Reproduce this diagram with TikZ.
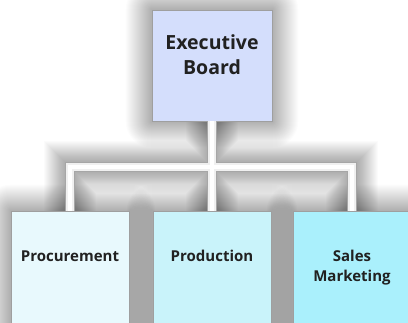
\documentclass[tikz,border=0pt]{standalone}
\usepackage{fontspec}
\setmainfont{Open Sans}
\usetikzlibrary{calc,backgrounds}

\definecolor{boardfill}{HTML}{D4DEFC}
\definecolor{procfill}{HTML}{E8F9FD}
\definecolor{prodfill}{HTML}{C9F3FA}
\definecolor{salesfill}{HTML}{AAF0FC}

\tikzset{
  unit/.style={draw=gray!75, line width=0.6pt, inner sep=0pt, align=center,
    text=black!87, font=\bfseries\fontsize{15}{20}\selectfont,
    text width=118pt, text height=51pt, text depth=90pt},
}

\begin{document}
\begin{tikzpicture}[x=1pt, y=-1pt]
  \useasboundingbox (0,0) rectangle (408,323);
  \clip (0,0) rectangle (408,323);

  % boxes
  \node[unit, fill=boardfill, text width=120pt, text height=40pt, text depth=71pt,
    font=\bfseries\fontsize{19.5}{25}\selectfont] (board) at (212,65.5) {Executive\\Board};
  \node[unit, fill=procfill] (box1) at (70,281.5) {Procurement};
  \node[unit, fill=prodfill] (box2) at (212,281.5) {Production};
  \node[unit, fill=salesfill] (box3) at (352,281.5) {Sales\\Marketing};

  \coordinate (bar) at (212,167);

  % white sheet, then soft shadows behind boxes and pipes
  \begin{pgfonlayer}{background}
    \fill[white] (0,0) rectangle (408,323);
    \foreach \n in {board,box1,box2,box3}
      \foreach \d in {1,2,...,26}
        \fill[black, opacity=0.012, rounded corners=\d pt]
          ($(\n.north west)+(-\d,-\d)$) rectangle ($(\n.south east)+(\d,\d)$);
    \foreach \w in {52,50,...,12}
      \draw[line width=\w pt, black, opacity=0.014]
        (box1.north) |- (bar) -| (box3.north) (board.south) -- (box2.north);
  \end{pgfonlayer}

  % pipes: rim first, then the lighter core
  \foreach \c/\w in {gray!70/10, gray!12/7.5, white/4}
    \draw[draw=\c, line width=\w pt]
      (box1.north) |- (bar) -| (box3.north) (board.south) -- (box2.north);
\end{tikzpicture}
\end{document}
